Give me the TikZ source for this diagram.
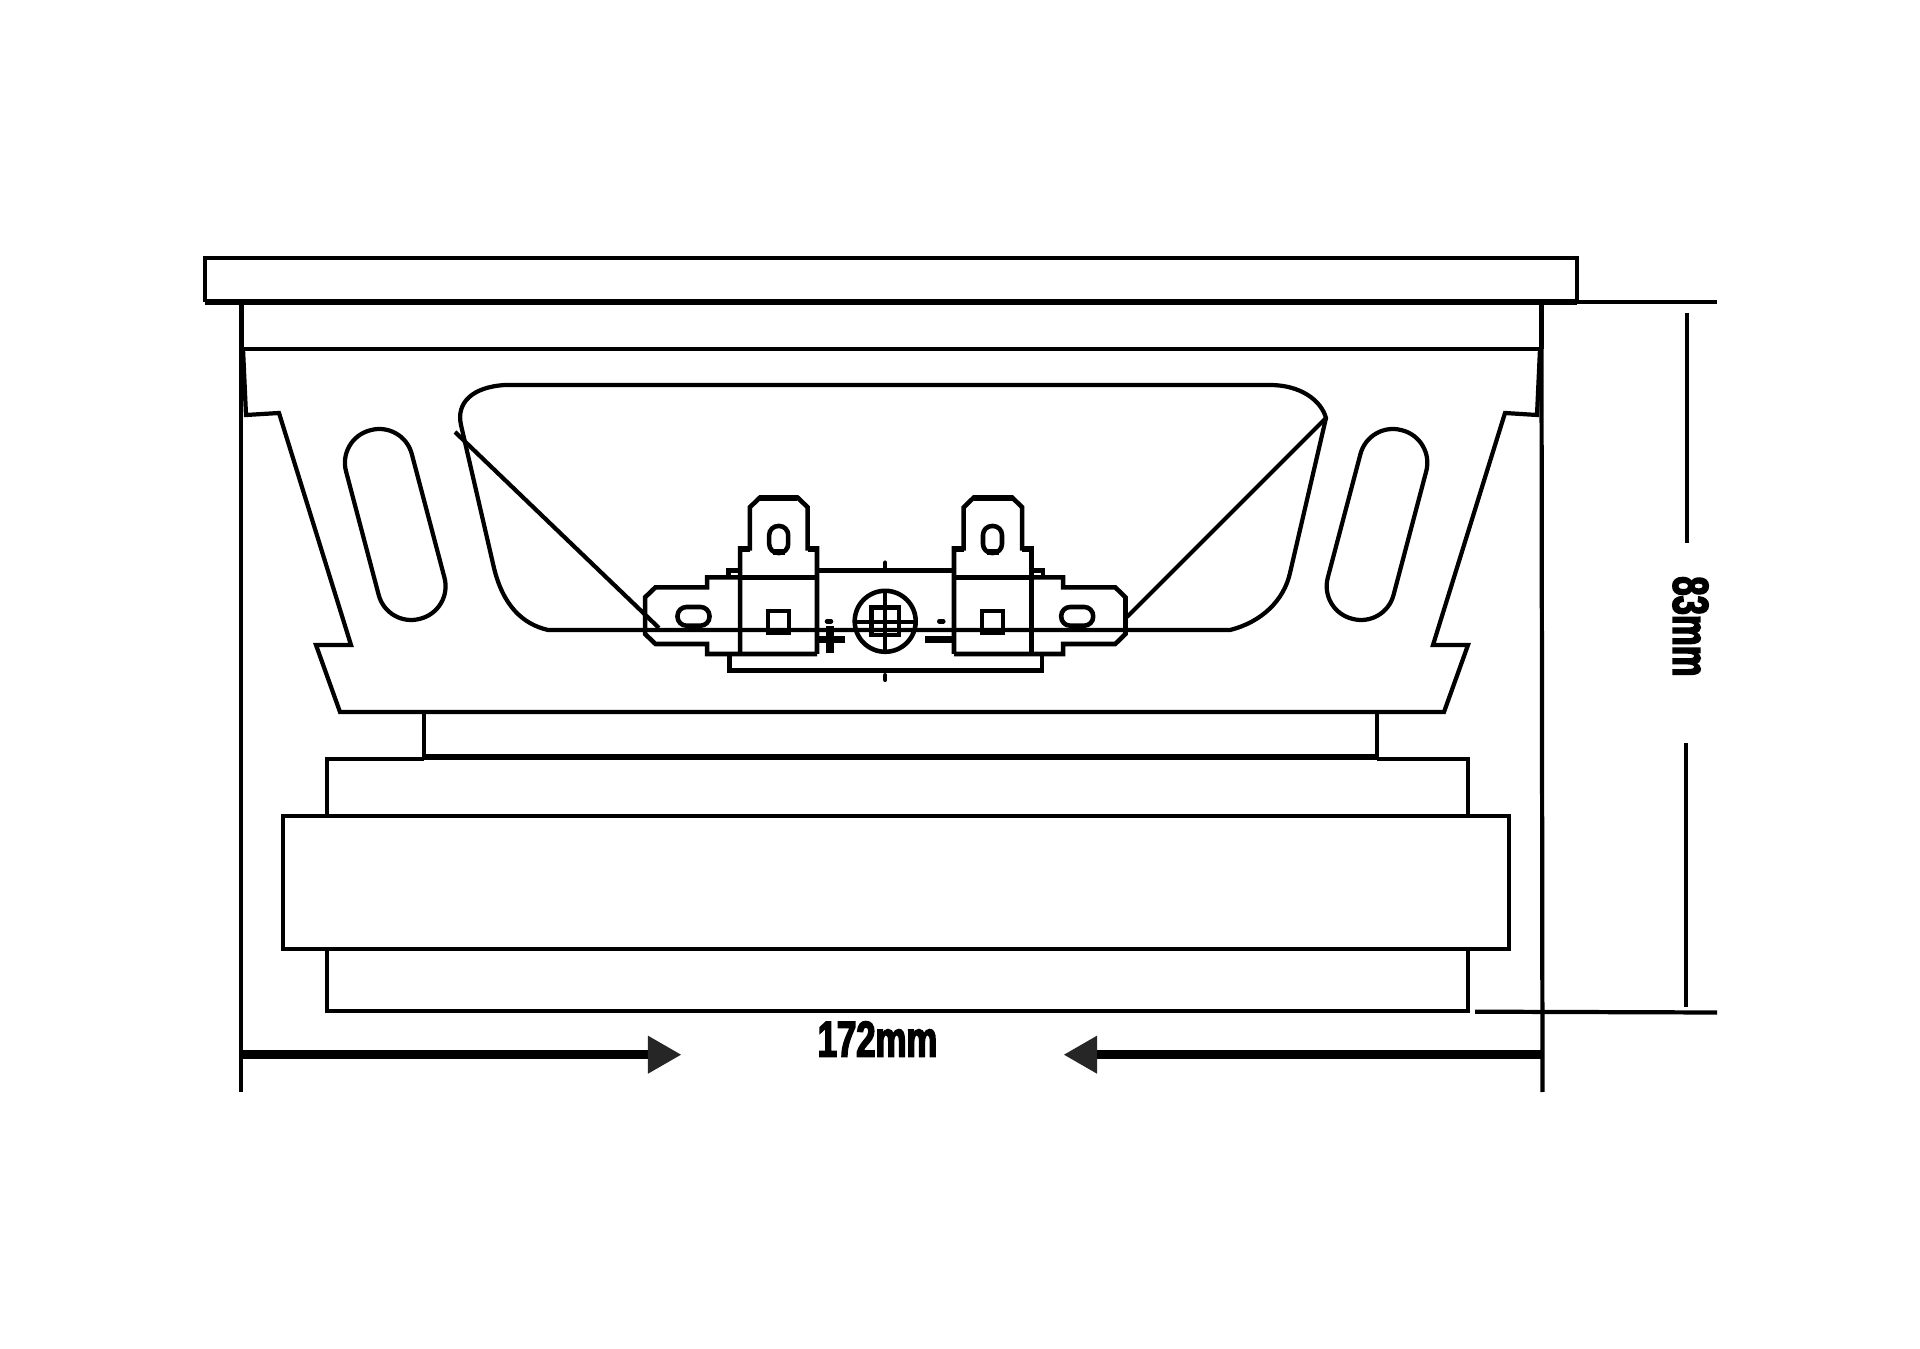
\documentclass[tikz,border=0pt]{standalone}
\usepackage{fontspec}
\usetikzlibrary{arrows.meta}
\newfontfamily\dimfont[FakeBold=3,FakeStretch=0.69]{Liberation Sans Bold}
\tikzset{
 part/.style={draw=black,line width=1.2pt,line join=miter},
 heavy/.style={draw=black,line width=1.9pt},
 block/.style={draw=black,line width=1.3pt,line join=miter},
 dimlabel/.style={font=\dimfont\fontsize{14.3}{14.3}\selectfont,inner sep=0pt,text=black},
 dimarrow/.style={draw=black,line width=2.4pt,-{Triangle[length=0.33cm,width=0.38cm,fill=black!85,line width=0pt]}}
}
\begin{document}
\begin{tikzpicture}[x=0.01cm,y=-0.01cm]
 \path[fill=white,use as bounding box](0,0) rectangle (1920,1349);
 % frame and basket
 \draw[part](205,302)--(205,258)--(1577,258)--(1577,302);
 \draw[heavy](205,302)--(1577,302);
 \draw[part](1577,302)--(1717,302);
 \draw[line width=1.5pt](241.5,302)--(241.5,349);
 \draw[line width=1.5pt](1541.5,302)--(1541.5,349);
 \draw[part](241,349)--(241,1092);
 \draw[part](1541.5,349)--(1542.5,1092);
 \draw[part](241,349)--(1541.5,349);
 \draw[part](243,349)--(246,415)--(279,413)--(351,645)--(316,645)--(340,712)--(1444,712)--(1468,645)--(1433,645)--(1505,413)--(1537,415)--(1540,349);
 % window in the basket
 \draw[part](505,385)--(1270,385) .. controls (1300,385) and (1321,400) .. (1326,418)--(1290,573) .. controls (1284,600) and (1262,622) .. (1230,630)--(548,630) .. controls (522,624) and (503,605) .. (494,568)--(461,425) .. controls (456,403) and (472,387) .. (505,385);
 \draw[part](455,432)--(659,628);
 \draw[part](1326,418)--(1127,617);
 % slots
 \foreach \cx/\ang in {395.25/14.8,1377/-14.8}
  \draw[part,rotate around={\ang:(\cx,524.5)},rounded corners=0.335cm](\cx-34,427) rectangle (\cx+34,622);
 % motor
 \draw[part](424.3,712)--(424.3,757);
 \draw[part](1376.7,712)--(1376.7,757);
 \draw[heavy](424.3,757)--(1376.7,757);
 \draw[part](326.7,816)--(326.7,759)--(424.3,759);
 \draw[part](1376.7,759)--(1467.7,759)--(1467.7,816);
 \draw[part](282.7,816) rectangle (1509,949.3);
 \draw[part](326.7,949.3)--(326.7,1011)--(1467.7,1011)--(1467.7,949.3);
 % terminal block
 \draw[block](817,577.3)--(707.1,577.3)--(707.1,587.3)--(655.5,587.3)--(645.1,597.3)--(645.1,634)--(655.5,644)--(707.1,644)--(707.1,654)--(817,654);
 \draw[block](954,577.3)--(1063.2,577.3)--(1063.2,587.3)--(1115.2,587.3)--(1125.5,597.3)--(1125.5,634)--(1115.2,644)--(1063.2,644)--(1063.2,654)--(954,654);
 \draw[block](740.2,654)--(740.2,548.3)--(749.8,548.3)--(749.8,507.3)--(760.2,497.3)--(797.3,497.3)--(807.7,507.3)--(807.7,548.3)--(817,548.3)--(817,654);
 \draw[block](954,654)--(954,548.3)--(963.7,548.3)--(963.7,507.3)--(974,497.3)--(1011.9,497.3)--(1022.2,507.3)--(1022.2,548.3)--(1031.5,548.3)--(1031.5,654);
 \draw[heavy](760.2,498)--(797.3,498);
 \draw[heavy](974,498)--(1011.9,498);
 \foreach \lx/\rx in {740.2/749.8,807.7/817,954/963.7,1022.2/1031.5}
  \draw[heavy](\lx,549)--(\rx,549);
 \draw[block](817,570.7)--(954,570.7);
 \draw[block](728.5,577.3)--(728.5,570.7)--(740.2,570.7);
 \draw[block](1031.5,570.7)--(1042.9,570.7)--(1042.9,577.3);
 \draw[block](729.5,654)--(729.5,670.7)--(1041.8,670.7)--(1041.8,654);
 \draw[block](740.2,577.3)--(817,577.3);
 \draw[block](954,577.3)--(1031.5,577.3);
 \foreach \hx in {778.7,992.5}{
  \draw[block,rounded corners=0.09cm](\hx-9.5,526) rectangle (\hx+9.5,553);
  \draw[heavy](\hx-6,552)--(\hx+6,552);
 }
 \foreach \sx in {778.4,992.5}
  \draw[block](\sx-10.5,611) rectangle (\sx+10.5,632.3);
 \foreach \tx in {693.5,1077.2}
  \draw[block,rounded corners=0.09cm](\tx-16,607) rectangle (\tx+16,625.7);
 % centre mark
 \draw[block](885.2,621.3) circle (30.5);
 \draw[block](871.4,607.3) rectangle (898.9,635);
 \draw[block](885.2,590.5)--(885.2,652);
 \draw[block](855,622)--(915.5,622);
 \foreach \ky in {561.7,674.3}
  \draw[block,line cap=round](885.2,\ky+1)--(885.2,\ky+5.5);
 \foreach \kx in {829,941.3}
  \draw[block,line cap=round](\kx-2,621.3)--(\kx+2,621.3);
 \draw[line width=2pt](830,625.7)--(830,653.3);
 \draw[line width=2pt](818.7,639.3)--(844.9,639.3);
 \draw[line width=2pt](925.4,639.3)--(952.3,639.3);
 \draw[part](548,630)--(1230,630);
 % dimensions
 \draw[part](1475,1011.7)--(1717,1012.5);
 \coordinate (wallL) at (241,1054.7);
 \coordinate (wallR) at (1541,1054.7);
 \coordinate (tipL) at (681,1054.7);
 \coordinate (tipR) at (1064,1054.7);
 \coordinate (topU) at (1687,313);
 \coordinate (botU) at (1687,543);
 \coordinate (topD) at (1686,743);
 \coordinate (botD) at (1686,1007);
 \draw[dimarrow](wallL)--(tipL);
 \draw[dimarrow](wallR)--(tipR);
 \draw[part](topU)--(botU);
 \draw[part](topD)--(botD);
 \node[dimlabel] (widthlabel) at (877.5,1039) {172mm};
 \node[dimlabel,rotate=-90] (heightlabel) at (1690.5,626.5) {83mm};
\end{tikzpicture}
\end{document}
